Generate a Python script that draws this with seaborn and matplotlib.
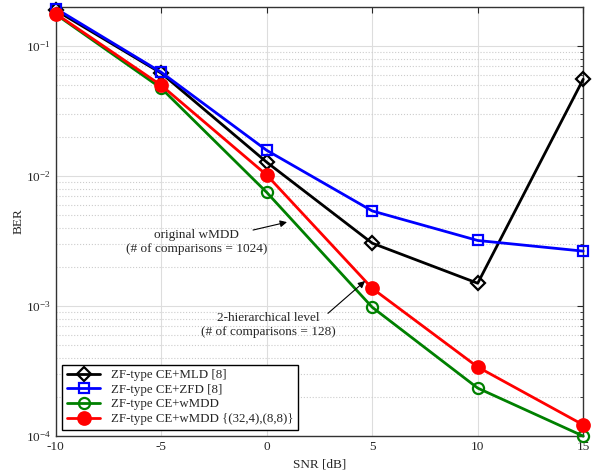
"""BER vs SNR for ZF-type channel estimation detectors"""

import matplotlib
matplotlib.use("Agg")
import matplotlib.pyplot as plt
import seaborn as sns
import pandas as pd

snr = [-10, -5, 0, 5, 10, 15]
ber_mld = [0.189, 0.062, 0.0128, 0.00305, 0.0015, 0.0557]
ber_zfd = [0.195, 0.063, 0.0158, 0.0054, 0.0032, 0.00265]
ber_wmdd = [0.176, 0.0475, 0.0075, 0.00098, 0.000234, 0.0001]
ber_hier = [0.178, 0.050, 0.0102, 0.00137, 0.00034, 0.000122]

labels = [
    "ZF-type CE+MLD [8]",
    "ZF-type CE+ZFD [8]",
    "ZF-type CE+wMDD",
    "ZF-type CE+wMDD {(32,4),(8,8)}",
]

sns.set_style("whitegrid")
plt.rcParams["font.family"] = ["Liberation Serif", "DejaVu Serif"]
plt.rcParams["mathtext.fontset"] = "stix"
plt.rcParams["axes.unicode_minus"] = False

fig = plt.figure(figsize=(6, 4.74), dpi=100)
ax = fig.add_axes([0.093, 0.080, 0.879, 0.905])

styles = [
    (ber_mld, "black", "D", "none", 7),
    (ber_zfd, "blue", "s", "none", 7),
    (ber_wmdd, "green", "o", "none", 8),
    (ber_hier, "red", "o", "red", 9),
]

for (ber, color, marker, face, ms), label in zip(styles, labels):
    df = pd.DataFrame({"SNR": snr, "BER": ber})
    sns.lineplot(
        data=df, x="SNR", y="BER", ax=ax, color=color, label=label,
        marker=marker, markersize=ms, markerfacecolor=face,
        markeredgecolor=color, markeredgewidth=1.6, linewidth=2,
        clip_on=False, zorder=3,
    )

ax.set_yscale("log")
ax.set_xlim(-10, 15)
ax.set_ylim(1e-4, 0.2)
ax.set_xticks([-10, -5, 0, 5, 10, 15])
ax.set_xlabel("SNR [dB]", fontsize=9.5)
ax.set_ylabel("BER", fontsize=9.5, labelpad=1)

ax.grid(True, which="major", color="#dddddd", linestyle="-", linewidth=0.8)
ax.grid(True, which="minor", axis="y", color="#cccccc", linestyle=":", linewidth=0.8)
ax.tick_params(which="both", direction="in", top=True, right=True, labelsize=9.5)
ax.tick_params(which="major", length=4)
ax.tick_params(which="minor", length=2)
for spine in ax.spines.values():
    spine.set_color("#333333")
    spine.set_linewidth(1)

ax.text(-3.31, 0.00311, "original wMDD\n(# of comparisons = 1024)",
        ha="center", va="center", fontsize=9.5, linespacing=1.2)
ax.annotate("", xy=(0.96, 0.00443), xytext=(-0.65, 0.00385),
            arrowprops=dict(arrowstyle="-|>", color="black", lw=0.8,
                            shrinkA=0, shrinkB=0))
ax.text(0.06, 0.000714, "2-hierarchical level\n(# of comparisons = 128)",
        ha="center", va="center", fontsize=9.5, linespacing=1.2)
ax.annotate("", xy=(4.66, 0.00156), xytext=(2.90, 0.00088),
            arrowprops=dict(arrowstyle="-|>", color="black", lw=0.8,
                            shrinkA=0, shrinkB=0))

leg = ax.legend(loc="lower left", fontsize=9.3, fancybox=False, framealpha=1,
                borderaxespad=0.5, handlelength=2.6, labelspacing=0.2,
                borderpad=0.35)
leg.get_frame().set_edgecolor("black")
leg.get_frame().set_linewidth(1)
leg.set_zorder(5)

fig.savefig("out.png", dpi=100)
